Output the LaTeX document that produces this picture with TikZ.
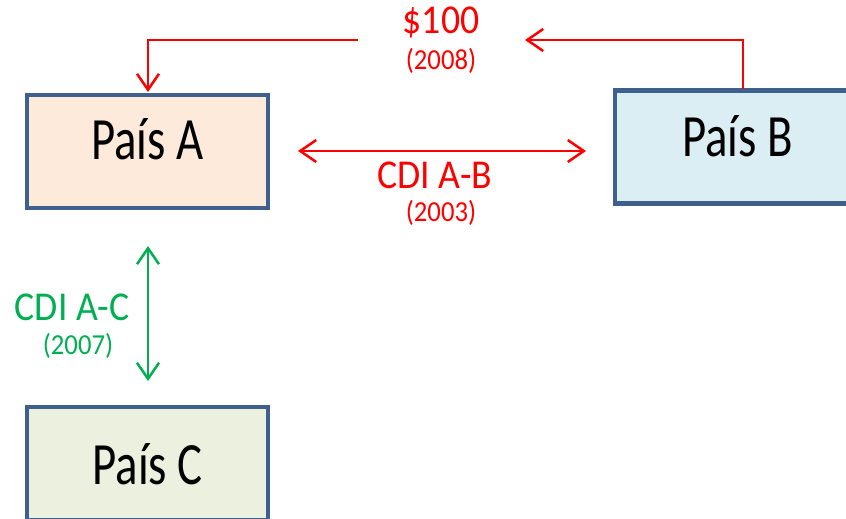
\documentclass[tikz,border=0pt]{standalone}
\usepackage{fontspec}
\setmainfont{Carlito}[FakeStretch=0.78]
\newfontfamily\labelfont{Carlito}[FakeStretch=0.92]
\usetikzlibrary{arrows.meta}
\definecolor{boxline}{HTML}{3F5F8C}
\definecolor{fillA}{HTML}{FDEADA}
\definecolor{fillB}{HTML}{DBEEF4}
\definecolor{fillC}{HTML}{EBF1DE}
\definecolor{red1}{HTML}{FF0000}
\definecolor{green1}{HTML}{00B050}
\newcommand{\boxtext}[2]{\raisebox{#1}[0pt][0pt]{#2}}
\tikzset{
  country/.style={draw=boxline, line width=4.5pt, minimum width=241pt, minimum height=113pt, inner sep=0pt, font=\fontsize{60}{68}\selectfont, text=black},
  barb/.tip={Straight Barb[length=16pt,width=22pt,line width=2.5pt]},
  redarrow/.style={draw=red1, line width=2.5pt, -barb},
  redboth/.style={draw=red1, line width=2.5pt, barb-barb},
  greenboth/.style={draw=green1, line width=2.5pt, barb-barb},
  big/.style={font=\labelfont\fontsize{41}{46}\selectfont, inner sep=0pt},
  small/.style={font=\labelfont\fontsize{29}{33}\selectfont, inner sep=0pt},
}
\begin{document}
\begin{tikzpicture}[x=1pt,y=-1pt]
\useasboundingbox (0,0) rectangle (846,519);
\node[country, fill=fillA] (A) at (147.5,151.5) {\boxtext{-7.5pt}{País A}};
\node[country, fill=fillB, minimum width=245pt] (B) at (737.5,147) {\boxtext{-9pt}{País B}};
\node[country, fill=fillC] (C) at (147.5,463.5) {\boxtext{-20.5pt}{País C}};
\coordinate (B1) at (743,89);
\coordinate (B2) at (743,40);
\coordinate (L1) at (525,40);
\coordinate (L2) at (358,40);
\coordinate (A2) at (148,40);
\coordinate (A1) at (148,92);
\draw[redarrow] (B1) -- (B2) -- (L1);
\draw[redarrow] (L2) -- (A2) -- (A1);
\node[big, text=red1] (t100) at (441,22) {\$100};
\node[small, text=red1] (t2008) at (441,61) {(2008)};
\coordinate (ab1) at (298,151);
\coordinate (ab2) at (586,151);
\draw[redboth] (ab1) -- (ab2);
\node[big, text=red1] (tab) at (435,175) {CDI A-B};
\node[small, text=red1] (t2003) at (441,213) {(2003)};
\coordinate (ac1) at (148,246);
\coordinate (ac2) at (148,381);
\draw[greenboth] (ac1) -- (ac2);
\node[big, text=green1] (tac) at (72,307) {CDI A-C};
\node[small, text=green1] (t2007) at (78,346) {(2007)};
\end{tikzpicture}
\end{document}
